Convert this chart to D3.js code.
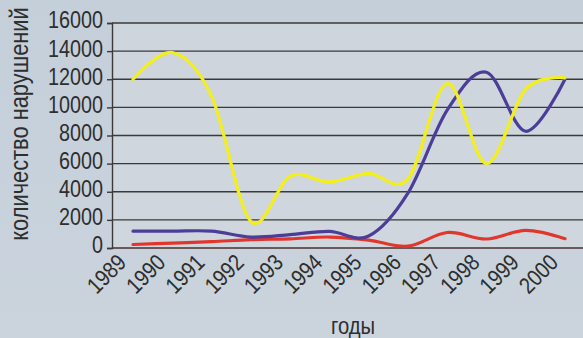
<!DOCTYPE html>
<html>
<head>
<meta charset="utf-8">
<script src="https://cdn.jsdelivr.net/npm/d3@7"></script>
<style>
  html, body { margin: 0; padding: 0; background: #cad3dc; }
  svg { display: block; }
  text { font-family: "Liberation Sans", Arial, sans-serif; fill: #2e2e2e; }
</style>
</head>
<body>
<svg id="chart" width="583" height="338"></svg>
<script>
// Years on the horizontal axis
const years = ["1989", "1990", "1991", "1992", "1993", "1994", "1995", "1996", "1997", "1998", "1999", "2000"];

// Number of violations per year, three series
const yellowSeries = [12000, 13900, 10800, 1900, 5100, 4700, 5300, 4900, 11700, 6000, 11300, 12100];
const blueSeries   = [1200, 1200, 1200, 780, 950, 1180, 850, 3900, 9800, 12500, 8300, 12000];
const redSeries    = [250, 350, 450, 590, 650, 780, 560, 130, 1100, 640, 1250, 660];

// Vertical axis ticks
const yTicks = [0, 2000, 4000, 6000, 8000, 10000, 12000, 14000, 16000];

const W = 583, H = 338;
const plot = { left: 112, right: 583, top: 23, bottom: 248 };
const narrow = 0.86; // condensed lettering

const svg = d3.select("#chart");

// soft paper-like background
const defs = svg.append("defs");
const bg = defs.append("linearGradient").attr("id", "bg").attr("x1", 0).attr("y1", 0).attr("x2", 0).attr("y2", 1);
bg.append("stop").attr("offset", "0%").attr("stop-color", "#c4cfda");
bg.append("stop").attr("offset", "100%").attr("stop-color", "#cbd4dd");
svg.append("rect").attr("width", W).attr("height", H).attr("fill", "url(#bg)");
svg.append("rect")
  .attr("x", plot.left).attr("y", plot.top)
  .attr("width", plot.right - plot.left).attr("height", plot.bottom - plot.top)
  .attr("fill", "#d3d9de").attr("opacity", 0.6);

const x = d3.scalePoint().domain(years).range([133, 565]);
const y = d3.scaleLinear().domain([0, 16000]).range([plot.bottom, plot.top]);

// horizontal grid lines
svg.append("g")
  .selectAll("line")
  .data(yTicks)
  .join("line")
  .attr("x1", plot.left).attr("x2", plot.right)
  .attr("y1", d => y(d)).attr("y2", d => y(d))
  .attr("stroke", d => d === 0 ? "#4a3030" : "#3a3a3a")
  .attr("stroke-width", 1.4);

// left axis with tick labels
const yAxis = d3.axisLeft(y).tickValues(yTicks).tickSize(5).tickPadding(4).tickFormat(d3.format("d"));
const gy = svg.append("g").attr("transform", `translate(${plot.left},0)`).call(yAxis);
gy.select(".domain").attr("stroke", "#3a3a3a").attr("stroke-width", 1.4);
gy.selectAll(".tick line").attr("stroke", "#3a3a3a").attr("stroke-width", 1.4);
gy.selectAll(".tick text")
  .attr("font-size", 23)
  .attr("fill", "#2e2e2e")
  .attr("x", null)
  .attr("dy", "0.3em")
  .attr("transform", `translate(-9,-2) scale(${narrow},1)`);

// slanted year labels
const xAxis = d3.axisBottom(x).tickSize(0).tickPadding(0);
const gx = svg.append("g").attr("transform", `translate(0,${plot.bottom})`).call(xAxis);
gx.select(".domain").remove();
gx.selectAll(".tick text")
  .attr("font-size", 23)
  .attr("fill", "#2e2e2e")
  .attr("text-anchor", "end")
  .attr("y", 0)
  .attr("dy", 0)
  .attr("transform", `translate(-6,16) rotate(-45) scale(${narrow},1)`);

// series lines, smoothed
const line = d3.line()
  .x((d, i) => x(years[i]))
  .y(d => y(d))
  .curve(d3.curveCardinal.tension(0));

const series = [
  { values: redSeries, color: "#e2362c" },
  { values: blueSeries, color: "#4b3e98" },
  { values: yellowSeries, color: "#f3ee1e" }
];

svg.append("g")
  .selectAll("path")
  .data(series)
  .join("path")
  .attr("d", d => line(d.values))
  .attr("fill", "none")
  .attr("stroke", d => d.color)
  .attr("stroke-width", 3.2)
  .attr("stroke-linejoin", "round")
  .attr("stroke-linecap", "round");

// axis titles
svg.append("text")
  .attr("transform", `translate(28,124) rotate(-90) scale(0.84,1)`)
  .attr("text-anchor", "middle")
  .attr("font-size", 26)
  .text("количество нарушений");

svg.append("text")
  .attr("transform", `translate(353,334) scale(0.88,1)`)
  .attr("text-anchor", "middle")
  .attr("font-size", 23)
  .text("годы");
</script>
</body>
</html>
